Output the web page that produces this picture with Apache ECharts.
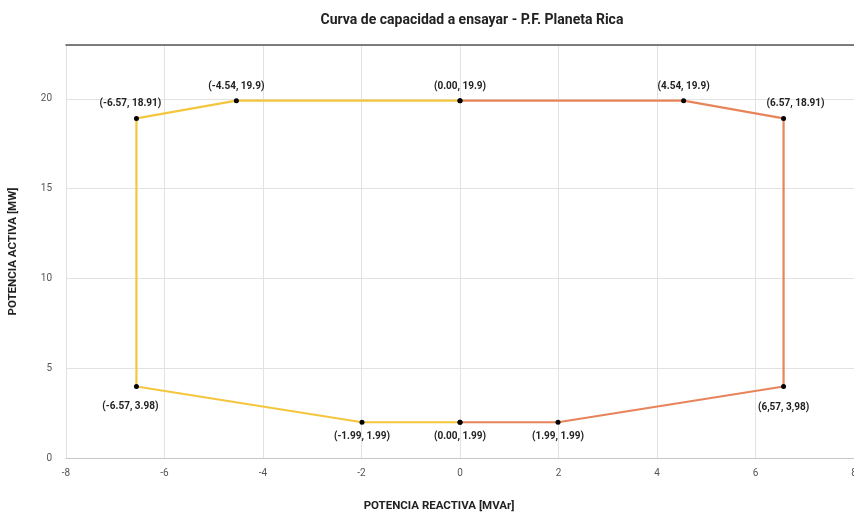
<!DOCTYPE html>
<html><head><meta charset="utf-8">
<script src="https://cdn.jsdelivr.net/npm/echarts@6/dist/echarts.min.js"></script>
<style>html,body{margin:0;padding:0;background:#fff;overflow:hidden}#c{width:854px;height:515px}</style>
</head><body><div id="c"></div>
<script>
const leftQ = [0, -1.99, -6.57, -6.57, -4.54, 0];
const leftP = [1.99, 1.99, 3.98, 18.91, 19.9, 19.9];
const leftLabels = ['', '(-1.99, 1.99)', '(-6.57, 3.98)', '(-6.57, 18.91)', '(-4.54, 19.9)', '(0.00, 19.9)'];
const rightQ = [0, 4.54, 6.57, 6.57, 1.99, 0];
const rightP = [19.9, 19.9, 18.91, 3.98, 1.99, 1.99];
const rightLabels = ['', '(4.54, 19.9)', '(6.57, 18.91)', '(6,57, 3,98)', '(1.99, 1.99)', '(0.00, 1.99)'];
const xTicks = [-8, -6, -4, -2, 0, 2, 4, 6, 8];
const yTicks = [0, 5, 10, 15, 20];

// label placement (style only)
const leftPos = ['bottom', 'bottom', 'bottom', 'top', 'top', 'top'];
const leftOff = [[0, 0], [0, 0], [-6, 5], [-6, 0], [0, 0], [0, 0]];
const rightPos = ['top', 'top', 'top', 'bottom', 'bottom', 'bottom'];
const rightOff = [[0, 0], [0, 0], [12, 0], [0, 6], [0, 0], [0, 0]];

function build(q, p, labels, pos, off) {
  return q.map((v, i) => ({
    value: [v, p[i]],
    label: {
      show: labels[i] !== '',
      formatter: labels[i],
      position: pos[i],
      offset: off[i],
      distance: 7
    }
  }));
}
const font = 'Roboto, "Liberation Sans", sans-serif';
const chart = echarts.init(document.getElementById('c'), null, { width: 854, height: 515 });
chart.setOption({
  animation: false,
  title: {
    text: 'Curva de capacidad a ensayar - P.F. Planeta Rica',
    left: 467, top: 8, textAlign: 'center',
    textStyle: { fontFamily: font, fontSize: 14, fontWeight: 'bold', color: '#222' }
  },
  grid: { left: 66, right: 0, top: 45, bottom: 57, outerBoundsMode: 'none', containLabel: false },
  xAxis: [{
    type: 'value', min: xTicks[0], max: xTicks[xTicks.length - 1], interval: 2,
    name: 'POTENCIA REACTIVA [MVAr]', nameLocation: 'middle', nameGap: 42,
    nameTextStyle: { fontFamily: font, fontSize: 11.5, fontWeight: 'bold', color: '#222', padding: [0, 42, 0, 0] },
    axisLine: { show: true, lineStyle: { color: '#c8c8c8' } },
    axisTick: { show: false },
    axisLabel: { fontFamily: font, fontSize: 10, color: '#555', margin: 10 },
    splitLine: { show: true, lineStyle: { color: '#e2e2e2' } }
  }, {
    type: 'value', position: 'top', min: -8, max: 8,
    axisLine: { show: true, onZero: false, lineStyle: { color: '#555', width: 1.5 } },
    axisTick: { show: false }, axisLabel: { show: false }, splitLine: { show: false }
  }],
  yAxis: {
    type: 'value', min: 0, max: 23, interval: 5,
    name: 'POTENCIA ACTIVA [MW]', nameLocation: 'middle', nameGap: 47,
    nameTextStyle: { fontFamily: font, fontSize: 11.5, fontWeight: 'bold', color: '#222' },
    axisLine: { show: false }, axisTick: { show: false },
    axisLabel: { fontFamily: font, fontSize: 10, color: '#555', margin: 14,
      formatter: v => (yTicks.indexOf(v) >= 0 ? String(v) : '') },
    splitLine: { show: true, lineStyle: { color: '#e2e2e2' } }
  },
  series: [{
    type: 'line', data: build(leftQ, leftP, leftLabels, leftPos, leftOff),
    lineStyle: { color: '#F4C63D', width: 2.2 },
    symbol: 'circle', symbolSize: 5,
    itemStyle: { color: '#000' },
    label: { fontFamily: font, fontSize: 10, fontWeight: 'bold', color: '#222' },
    z: 3
  }, {
    type: 'line', data: build(rightQ, rightP, rightLabels, rightPos, rightOff),
    lineStyle: { color: '#E8845A', width: 2.2 },
    symbol: 'circle', symbolSize: 5,
    itemStyle: { color: '#000' },
    label: { fontFamily: font, fontSize: 10, fontWeight: 'bold', color: '#222' },
    z: 3
  }]
});
</script>
</body></html>
